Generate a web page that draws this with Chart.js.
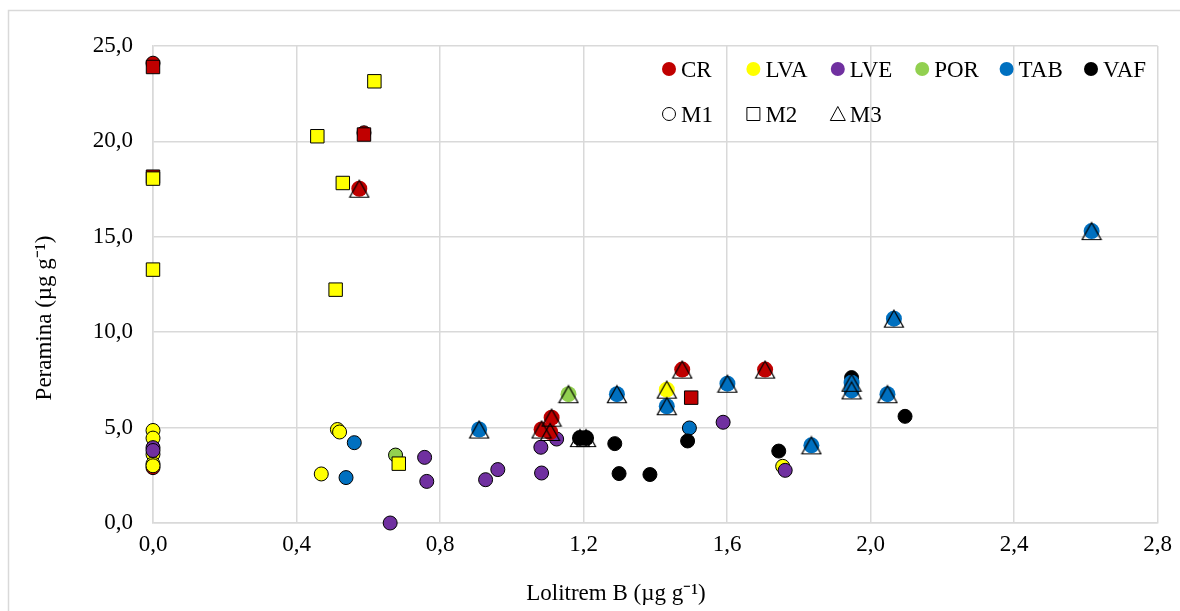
<!DOCTYPE html>
<html>
<head>
<meta charset="utf-8">
<script src="https://cdn.jsdelivr.net/npm/chart.js@4.4.1/dist/chart.umd.min.js"></script>
<style>
  html, body { margin: 0; padding: 0; background: #fff; }
  #wrap { width: 1180px; height: 611px; position: relative; }
</style>
</head>
<body>
<div id="wrap"><canvas id="chart" width="1180" height="611"></canvas></div>
<script>
// cultivars and sample times
const cultivars = ['CR', 'LVA', 'LVE', 'POR', 'TAB', 'VAF'];
const samples = ['M1', 'M2', 'M3'];
const colors = ['#C00000', '#FFFF00', '#7030A0', '#92D050', '#0070C0', '#000000'];

// [lolitrem B, peramina, sample] per cultivar
const cr = [
  [0, 24.1, 'M1'], [0, 2.9, 'M1'], [0.588, 20.45, 'M1'],
  [0, 23.9, 'M2'], [0, 18.15, 'M2'], [0.588, 20.36, 'M2'], [1.50, 6.57, 'M2'],
  [0.575, 17.52, 'M3'], [1.083, 4.90, 'M3'], [1.107, 4.77, 'M3'], [1.111, 5.52, 'M3'],
  [1.475, 8.04, 'M3'], [1.706, 8.04, 'M3']
];
const lva = [
  [0, 4.85, 'M1'], [0, 4.45, 'M1'], [0, 3.6, 'M1'], [0, 3.1, 'M1'], [0, 3.0, 'M1'],
  [0.514, 4.9, 'M1'], [0.52, 4.77, 'M1'], [0.469, 2.57, 'M1'], [1.755, 2.97, 'M1'],
  [0, 18.05, 'M2'], [0, 13.28, 'M2'], [0.458, 20.27, 'M2'], [0.617, 23.15, 'M2'],
  [0.529, 17.82, 'M2'], [0.509, 12.23, 'M2'], [0.685, 3.11, 'M2'],
  [1.432, 6.99, 'M3']
];
const lve = [
  [0, 3.95, 'M1'], [0, 3.8, 'M1'], [0.661, 0, 'M1'], [0.757, 3.44, 'M1'], [0.763, 2.18, 'M1'],
  [0.927, 2.27, 'M1'], [0.961, 2.8, 'M1'], [1.081, 3.97, 'M1'], [1.083, 2.62, 'M1'],
  [1.125, 4.4, 'M1'], [1.589, 5.28, 'M1'], [1.762, 2.76, 'M1']
];
const por = [
  [0.676, 3.56, 'M1'], [1.158, 6.75, 'M3']
];
const tab = [
  [0.561, 4.21, 'M1'], [0.538, 2.38, 'M1'], [1.495, 4.98, 'M1'],
  [0.909, 4.9, 'M3'], [1.293, 6.75, 'M3'], [1.432, 6.12, 'M3'], [1.601, 7.3, 'M3'],
  [1.835, 4.07, 'M3'], [1.947, 7.35, 'M3'], [1.947, 6.95, 'M3'], [2.047, 6.75, 'M3'],
  [2.065, 10.71, 'M3'], [2.616, 15.3, 'M3']
];
const vaf = [
  [1.287, 4.16, 'M1'], [1.299, 2.59, 'M1'], [1.385, 2.54, 'M1'], [1.49, 4.3, 'M1'],
  [1.744, 3.77, 'M1'], [2.096, 5.59, 'M1'], [1.947, 7.62, 'M1'],
  [1.19, 4.45, 'M3'], [1.207, 4.45, 'M3']
];
const groups = [cr, lva, lve, por, tab, vaf];

const xTicks = [0, 0.4, 0.8, 1.2, 1.6, 2.0, 2.4, 2.8];
const yTicks = [0, 5, 10, 15, 20, 25];
const xTitle = 'Lolitrem B (µg g⁻¹)';
const yTitle = 'Peramina (µg g⁻¹)';

const FONT = '"Liberation Serif", "Times New Roman", serif';
const GRID = '#d9d9d9';
const fmt = v => Number(v).toFixed(1).replace('.', ',');

// triangle outline centred on its bounding box (like Excel)
function triangleMarker() {
  const c = document.createElement('canvas');
  c.width = 22; c.height = 20;
  const g = c.getContext('2d');
  g.beginPath();
  g.moveTo(11, 1.5);
  g.lineTo(20.5, 18.5);
  g.lineTo(1.5, 18.5);
  g.closePath();
  g.strokeStyle = '#000';
  g.lineWidth = 1.2;
  g.stroke();
  return c;
}
const tri = triangleMarker();

const pts = (arr, s) => arr.filter(p => p[2] === s).map(p => ({ x: p[0], y: p[1] }));

// datasets: first in list is drawn on top, so later cultivars go first
const order = cultivars.map((_, i) => i).reverse();
const datasets = [];
order.forEach(i => {
  datasets.push({ label: cultivars[i] + ' M3', data: pts(groups[i], 'M3'), pointStyle: tri, pointRadius: 10, clip: false });
});
order.forEach(i => {
  datasets.push({ label: cultivars[i] + ' M3 fill', data: pts(groups[i], 'M3'), pointStyle: 'circle',
    pointRadius: 8, backgroundColor: colors[i], borderWidth: 0, clip: false });
});
order.forEach(i => {
  datasets.push({ label: cultivars[i] + ' M2', data: pts(groups[i], 'M2'), pointStyle: 'rect',
    pointRadius: 9.5, backgroundColor: colors[i], borderColor: '#000', borderWidth: 1, clip: false });
});
order.forEach(i => {
  datasets.push({ label: cultivars[i] + ' M1', data: pts(groups[i], 'M1'), pointStyle: 'circle',
    pointRadius: 7, backgroundColor: colors[i], borderColor: '#000', borderWidth: 1, clip: false });
});

// outer chart border, axis titles and Excel-like legend inside the plot
const decor = {
  id: 'decor',
  beforeDraw(chart) {
    const ctx = chart.ctx;
    ctx.save();
    ctx.strokeStyle = GRID;
    ctx.lineWidth = 1.5;
    ctx.strokeRect(8.5, 10.5, 1300, 800);
    ctx.restore();
  },
  afterDraw(chart) {
    const ctx = chart.ctx;
    ctx.save();
    ctx.font = '23px ' + FONT;
    ctx.fillStyle = '#000';
    ctx.textAlign = 'center';
    ctx.textBaseline = 'middle';
    ctx.fillText(xTitle, 616, 594);
    ctx.save();
    ctx.translate(45, 318);
    ctx.rotate(-Math.PI / 2);
    ctx.fillText(yTitle, 0, 0);
    ctx.restore();

    ctx.textAlign = 'left';
    ctx.textBaseline = 'alphabetic';
    const x0 = 669, step = 84.4, row1 = 69, row2 = 114;
    cultivars.forEach((name, i) => {
      const cx = x0 + step * i;
      ctx.beginPath();
      ctx.arc(cx, row1, 7, 0, Math.PI * 2);
      ctx.fillStyle = colors[i];
      ctx.fill();
      ctx.fillStyle = '#000';
      ctx.fillText(name, cx + 12, row1 + 8);
    });
    ctx.strokeStyle = '#000';
    ctx.lineWidth = 1;
    samples.forEach((name, i) => {
      const cx = x0 + step * i;
      ctx.beginPath();
      if (i === 0) ctx.arc(cx, row2, 6.5, 0, Math.PI * 2);
      else if (i === 1) ctx.rect(cx - 6.5, row2 - 6.5, 13, 13);
      else { ctx.moveTo(cx, row2 - 7.5); ctx.lineTo(cx + 7.5, row2 + 6.5); ctx.lineTo(cx - 7.5, row2 + 6.5); ctx.closePath(); }
      ctx.stroke();
      ctx.fillText(name, cx + 12, row2 + 8);
    });
    ctx.restore();
  }
};

new Chart(document.getElementById('chart'), {
  type: 'scatter',
  data: { datasets },
  options: {
    responsive: false,
    animation: false,
    layout: { padding: { top: 46, right: 22, left: 0, bottom: 0 } },
    plugins: { legend: { display: false }, tooltip: { enabled: false } },
    scales: {
      x: {
        type: 'linear',
        min: xTicks[0],
        max: xTicks[xTicks.length - 1],
        afterFit: s => { s.height = 88; },
        afterBuildTicks: s => { s.ticks = xTicks.map(v => ({ value: v })); },
        grid: { color: GRID, lineWidth: 1.5, drawTicks: false },
        border: { color: GRID, width: 1.5 },
        ticks: { padding: 8, color: '#000', font: { family: FONT, size: 23 }, callback: fmt }
      },
      y: {
        type: 'linear',
        min: yTicks[0],
        max: yTicks[yTicks.length - 1],
        afterFit: s => { s.width = 153; },
        afterBuildTicks: s => { s.ticks = yTicks.map(v => ({ value: v })); },
        grid: { color: GRID, lineWidth: 1.5, drawTicks: false },
        border: { color: GRID, width: 1.5 },
        ticks: { padding: 20, color: '#000', font: { family: FONT, size: 23 }, callback: fmt }
      }
    }
  },
  plugins: [decor]
});
</script>
</body>
</html>
